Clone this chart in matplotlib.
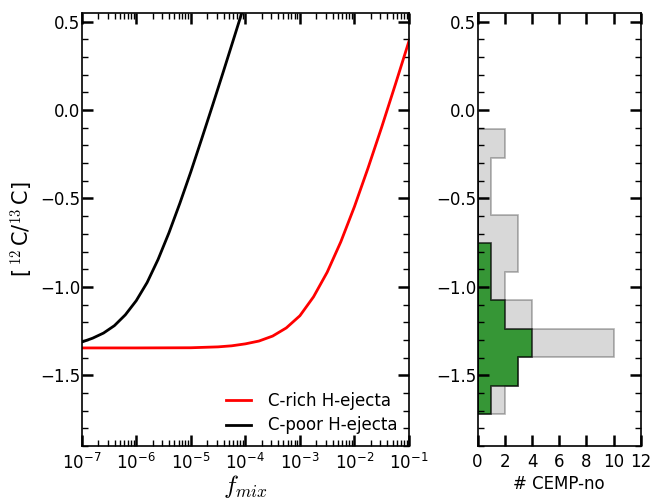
import numpy as np
import matplotlib
matplotlib.use('Agg')
import matplotlib.pyplot as plt
from matplotlib.ticker import MultipleLocator, LogLocator, NullFormatter

plt.rcParams['font.family'] = ['DejaVu Sans']
plt.rcParams['mathtext.fontset'] = 'cm'
plt.rcParams['font.size'] = 12

# curves: log10(f_mix) vs [12C/13C]
rich_logf = [-7.0, -6.0, -5.0, -4.5, -4.25, -4.0, -3.75, -3.5, -3.25, -3.0,
             -2.75, -2.5, -2.25, -2.0, -1.75, -1.5, -1.25, -1.0]
rich_val = [-1.345, -1.345, -1.344, -1.339, -1.333, -1.322, -1.306, -1.278, -1.232, -1.163,
            -1.056, -0.917, -0.745, -0.546, -0.327, -0.096, 0.145, 0.39]

poor_logf = [-7.0, -6.8, -6.6, -6.4, -6.2, -6.0, -5.8, -5.6, -5.4, -5.2,
             -5.0, -4.8, -4.6, -4.4, -4.2, -4.0]
poor_val = [-1.312, -1.29, -1.261, -1.219, -1.158, -1.078, -0.975, -0.845, -0.694, -0.527,
            -0.35, -0.163, 0.027, 0.22, 0.416, 0.613]

# histogram of CEMP-no stars
bin_edges = np.linspace(-1.72, -0.11, 11)
all_counts = [2, 3, 10, 4, 2, 3, 3, 1, 1, 2]
sel_counts = [1, 3, 4, 2, 1, 1, 0, 0, 0, 0]

fig = plt.figure(figsize=(6.56, 4.99), dpi=100)
ax1 = fig.add_axes([0.1245, 0.106, 0.499, 0.8685])
ax2 = fig.add_axes([0.728, 0.106, 0.249, 0.8685])

ax1.plot(10**np.array(rich_logf), rich_val, color='red', lw=2, label='C-rich H-ejecta')
ax1.plot(10**np.array(poor_logf), poor_val, color='black', lw=2, label='C-poor H-ejecta')
ax1.set_xscale('log')
ax1.set_xlim(1e-7, 1e-1)
ax1.set_ylim(-1.9, 0.55)
ax1.set_xlabel('$f_{mix}$', fontsize=18, labelpad=0)
ax1.set_ylabel('[$\\,^{12}\\,$C/$^{13}\\,$C]', fontsize=15, labelpad=3)
ax1.xaxis.set_major_locator(LogLocator(base=10, numticks=10))
ax1.xaxis.set_minor_locator(LogLocator(base=10, subs=np.arange(2, 10), numticks=20))
ax1.xaxis.set_minor_formatter(NullFormatter())
ax1.yaxis.set_major_locator(MultipleLocator(0.5))
ax1.yaxis.set_minor_locator(MultipleLocator(0.1))
ax1.legend(loc='lower right', frameon=False, handlelength=1.5, handletextpad=1.0,
           fontsize=12, borderaxespad=0.3, labelspacing=0.4)

centers = 0.5 * (bin_edges[1:] + bin_edges[:-1])
ax2.hist(centers, bins=bin_edges, weights=all_counts, orientation='horizontal',
         histtype='stepfilled', facecolor=(0.5, 0.5, 0.5, 0.3),
         edgecolor=(0, 0, 0, 0.3), lw=1.2)
ax2.hist(centers, bins=bin_edges, weights=sel_counts, orientation='horizontal',
         histtype='stepfilled', facecolor=(0, 0.5, 0, 0.75),
         edgecolor=(0, 0, 0, 0.75), lw=1.2)
ax2.set_xlim(0, 12)
ax2.set_ylim(-1.9, 0.55)
ax2.set_xlabel('# CEMP-no', fontsize=12, labelpad=3)
ax2.xaxis.set_major_locator(MultipleLocator(2))
ax2.yaxis.set_major_locator(MultipleLocator(0.5))
ax2.yaxis.set_minor_locator(MultipleLocator(0.1))

for ax in (ax1, ax2):
    ax.tick_params(which='both', direction='in', top=True, right=True)
    ax.tick_params(which='major', length=8, width=1.8)
    ax.tick_params(which='minor', length=4, width=1)
    ax.tick_params(axis='y', which='major', pad=1)
    ax.tick_params(axis='x', which='major', pad=5)
    for s in ax.spines.values():
        s.set_linewidth(1.2)

fig.savefig('out.png', dpi=100)
